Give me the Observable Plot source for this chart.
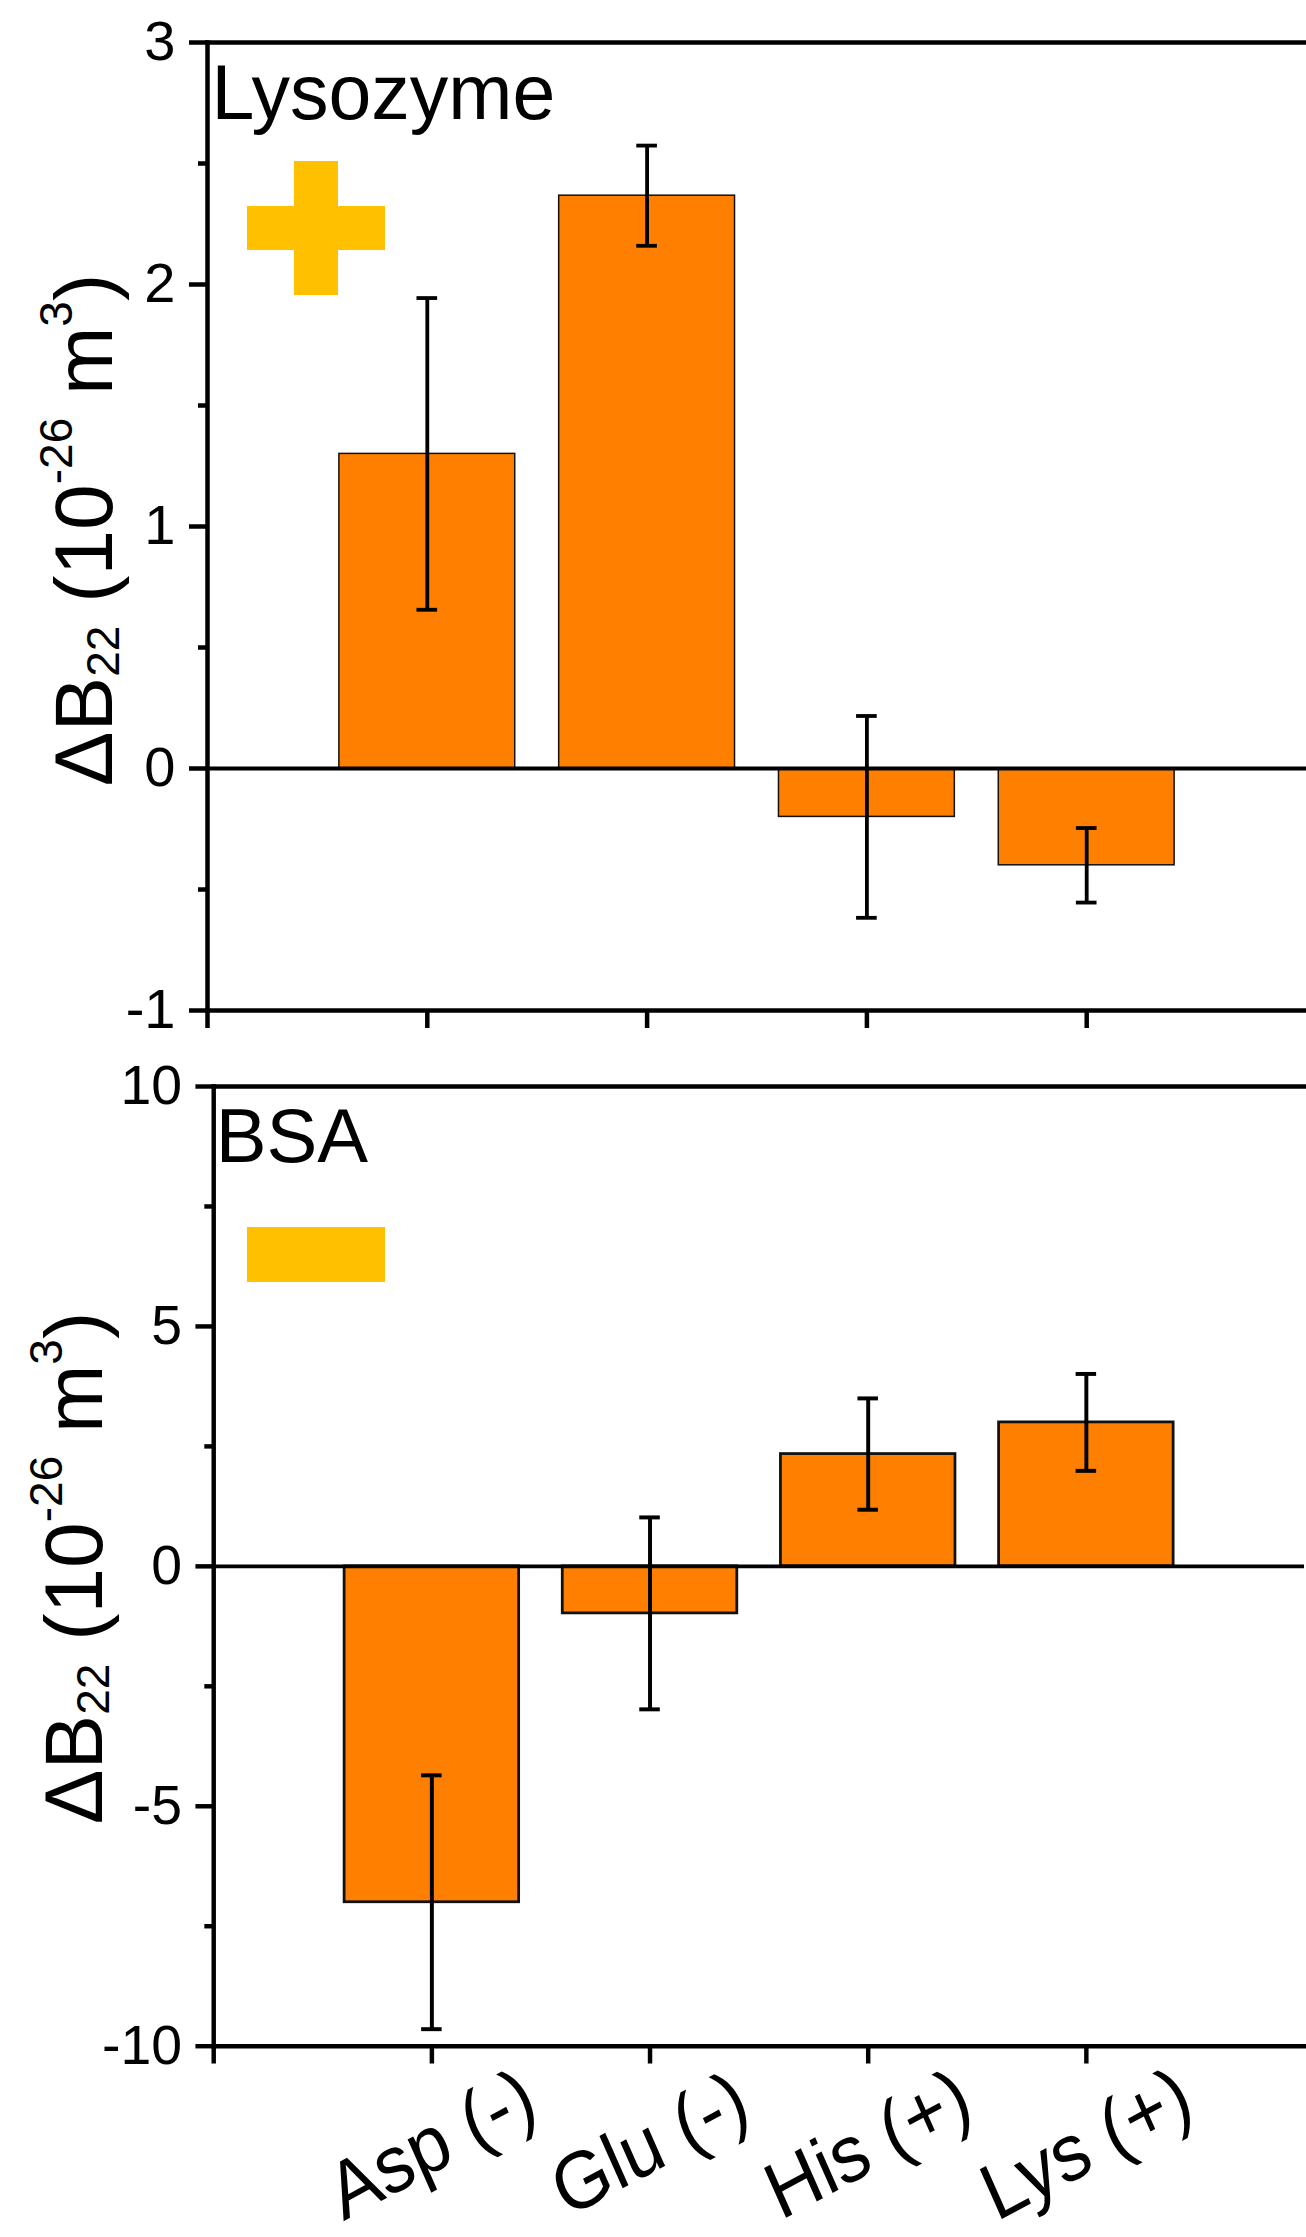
<!DOCTYPE html>
<html>
<head>
<meta charset="utf-8">
<script src="https://cdn.jsdelivr.net/npm/d3@7"></script>
<script src="https://cdn.jsdelivr.net/npm/@observablehq/plot@0.6"></script>
<style>
  html, body { margin: 0; padding: 0; background: #fff; }
  #wrap { position: relative; width: 1306px; height: 2237px; overflow: hidden; background: #fff; }
  #wrap > svg { position: absolute; left: 0; }
</style>
</head>
<body>
<div id="wrap"></div>
<script>
// ---- data ----
const categories = ["Asp (-)", "Glu (-)", "His (+)", "Lys (+)"];
const lysozymeValues = [1.30, 2.367, -0.20, -0.40];
const lysozymeErrors = [0.644, 0.207, 0.417, 0.154];
const bsaValues = [-7.0, -0.98, 2.34, 3.0];
const bsaErrors = [2.645, 2.0, 1.16, 1.01];
const lysozymeTicks = [-1, 0, 1, 2, 3];
const lysozymeMinorTicks = [-0.5, 0.5, 1.5, 2.5];
const bsaTicks = [-10, -5, 0, 5, 10];
const bsaMinorTicks = [-7.5, -2.5, 2.5, 7.5];
const xTicks = [0, 1, 2, 3, 4];
const panelNames = ["Lysozyme", "BSA"];

const FONT = '"Liberation Sans", Arial, Helvetica, sans-serif';
const ORANGE = "#FF8000";
const YELLOW = "#FFC000";
const BAR_HALF = 0.4;
const CAP_HALF = 0.047;

function rows(values, errors) {
  return categories.map((c, i) => ({cat: c, pos: i + 1, value: values[i], err: errors[i]}));
}

function panel(o) {
  const data = o.data;
  const marks = [
    Plot.rectY(data, {
      x1: d => d.pos - BAR_HALF, x2: d => d.pos + BAR_HALF,
      y1: 0, y2: "value",
      fill: ORANGE, stroke: "#111", strokeWidth: o.barStroke
    }),
    Plot.ruleY([0], {stroke: "#000", strokeWidth: 4}),
    Plot.ruleX(data, {x: "pos", y1: d => d.value - d.err, y2: d => d.value + d.err, stroke: "#000", strokeWidth: o.errWidth}),
    Plot.ruleY(data, {y: d => d.value + d.err, x1: d => d.pos - CAP_HALF, x2: d => d.pos + CAP_HALF, stroke: "#000", strokeWidth: o.errWidth}),
    Plot.ruleY(data, {y: d => d.value - d.err, x1: d => d.pos - CAP_HALF, x2: d => d.pos + CAP_HALF, stroke: "#000", strokeWidth: o.errWidth}),
    Plot.frame({anchor: "top", stroke: "#000", strokeWidth: 4.5, strokeLinecap: "square"}),
    Plot.frame({anchor: "left", stroke: "#000", strokeWidth: 4.5, strokeLinecap: "square"}),
    Plot.frame({anchor: "bottom", stroke: "#000", strokeWidth: 4.5, strokeLinecap: "square"}),
    Plot.axisY({ticks: o.yTicks, tickSize: 18, tickPadding: 14, strokeWidth: 4.5, tickFormat: d => String(d), fontSize: 56, label: null}),
    Plot.axisY({ticks: o.yMinor, tickSize: 9, strokeWidth: 4.5, tickFormat: () => "", label: null}),
    Plot.axisX({ticks: xTicks, tickSize: 18, strokeWidth: 4.5, tickFormat: () => "", label: null}),
    Plot.text([o.name], {frameAnchor: "top-left", textAnchor: "start", lineAnchor: "bottom", dx: o.nameDx, dy: o.nameDy, fontSize: 77, fill: "#000"})
  ];
  if (o.showLabels) {
    marks.push(Plot.text(data, {
      x: "pos", text: "cat", frameAnchor: "bottom",
      rotate: -26, dy: 100, fontSize: 74,
      textAnchor: "middle", lineAnchor: "middle", fill: "#000"
    }));
  }
  return Plot.plot({
    width: o.width, height: o.height,
    marginTop: o.marginTop, marginBottom: o.marginBottom,
    marginLeft: o.marginLeft, marginRight: o.marginRight,
    x: {type: "linear", domain: [0, 5], label: null},
    y: {domain: o.yDomain, label: null},
    style: {fontFamily: FONT, fontSize: "56px", color: "#000", background: "transparent", overflow: "visible"},
    marks
  });
}

const wrap = document.getElementById("wrap");

const topPlot = panel({
  data: rows(lysozymeValues, lysozymeErrors),
  yDomain: [-1, 3], yTicks: lysozymeTicks, yMinor: lysozymeMinorTicks,
  name: panelNames[0], nameDx: 4, nameDy: 76,
  width: 1306, height: 1060, marginTop: 42, marginBottom: 50, marginLeft: 207, marginRight: 0,
  barStroke: 1.5, errWidth: 3.8, showLabels: false
});
topPlot.style.top = "0px";
wrap.appendChild(topPlot);

const bottomPlot = panel({
  data: rows(bsaValues, bsaErrors),
  yDomain: [-10, 10], yTicks: bsaTicks, yMinor: bsaMinorTicks,
  name: panelNames[1], nameDx: 2, nameDy: 76.5,
  width: 1320, height: 1197, marginTop: 46.5, marginBottom: 180.5, marginLeft: 215.5, marginRight: 2,
  barStroke: 2.8, errWidth: 4, showLabels: true
});
bottomPlot.style.top = "1040px";
wrap.appendChild(bottomPlot);

// the category labels in the source are slightly stretched vertically
d3.select(bottomPlot).selectAll("text")
  .filter(function () { return categories.includes(this.textContent); })
  .attr("transform", function () {
    const t = this.getAttribute("transform") || "";
    return t.replace("rotate(", "scale(1,1.1) rotate(");
  });

// ---- overlay: axis titles and charge symbols ----
const overlay = d3.select(wrap).append("svg")
  .attr("width", 1306).attr("height", 2237)
  .style("top", "0px").style("pointer-events", "none");

function addTitle(x, y) {
  const t = overlay.append("text")
    .attr("transform", `translate(${x},${y}) rotate(-90)`)
    .attr("text-anchor", "middle")
    .attr("font-size", 82)
    .attr("font-family", FONT)
    .attr("fill", "#000");
  t.append("tspan").text("\u0394B");
  t.append("tspan").attr("font-size", 46).attr("dy", 7).text("22");
  t.append("tspan").attr("dy", -7).text(" (10");
  t.append("tspan").attr("font-size", 46).attr("dy", -40).text("-26");
  t.append("tspan").attr("dy", 40).text(" m");
  t.append("tspan").attr("font-size", 46).attr("dy", -40).text("3");
  t.append("tspan").attr("dy", 40).text(")");
}
addTitle(112, 530);
addTitle(102, 1568);

// plus sign (Lysozyme) and minus sign (BSA)
overlay.append("rect").attr("x", 294).attr("y", 161).attr("width", 44).attr("height", 134).attr("fill", YELLOW);
overlay.append("rect").attr("x", 247).attr("y", 206).attr("width", 138).attr("height", 44).attr("fill", YELLOW);
overlay.append("rect").attr("x", 247).attr("y", 1227).attr("width", 138).attr("height", 55).attr("fill", YELLOW);
</script>
</body>
</html>
